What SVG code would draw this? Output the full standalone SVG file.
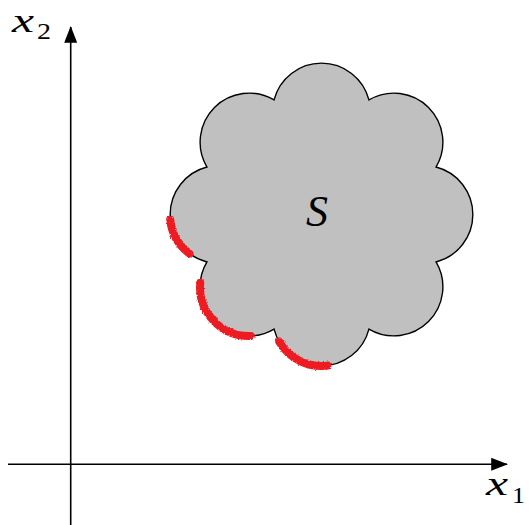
<svg xmlns="http://www.w3.org/2000/svg" width="529" height="525" viewBox="0 0 529 525">
<style>
.axis{stroke:#000;stroke-width:1.6;fill:none}
.blob{fill:#c0c0c0;stroke:#000;stroke-width:1.4;stroke-linejoin:miter}
.red{fill:none;stroke:#ec1c24;stroke-width:8;stroke-linecap:round;filter:url(#rough)}
.mi{font-family:"Liberation Serif","Times New Roman",serif;font-style:italic;fill:#000}
.rm{font-family:"Liberation Serif","Times New Roman",serif;fill:#000}
</style>
<defs>
<marker id="arr" viewBox="0 0 18 14" refX="17" refY="7" markerWidth="18" markerHeight="13" markerUnits="userSpaceOnUse" orient="auto">
<path d="M0,0 L18,7 L0,14 Z" fill="#000"/>
</marker>
<filter id="rough" x="-20%" y="-20%" width="140%" height="140%">
<feTurbulence type="fractalNoise" baseFrequency="0.6" numOctaves="2" seed="3" result="n"/>
<feDisplacementMap in="SourceGraphic" in2="n" scale="3" xChannelSelector="R" yChannelSelector="G"/>
</filter>
</defs>
<g id="connectors">
<line class="axis" x1="70.7" y1="525" x2="70.7" y2="27" marker-end="url(#arr)"/>
<line class="axis" x1="8" y1="464.3" x2="507" y2="464.3" marker-end="url(#arr)"/>
</g>
<g id="set-S">
<path class="blob" d="M436.06,167.05 A49 49 0 0 0 368.95,99.94 A49 49 0 0 0 274.05,99.94 A49 49 0 0 0 206.94,167.05 A49 49 0 0 0 206.94,261.95 A49 49 0 0 0 274.05,329.06 A49 49 0 0 0 368.95,329.06 A49 49 0 0 0 436.06,261.95 A49 49 0 0 0 436.06,167.05 Z"/>
<text class="mi" x="306" y="226" font-size="44">S</text>
</g>
<g id="red-marks">
<path class="red" d="M170.2,219.5 A49 49 0 0 0 189.5,253.6"/>
<path class="red" d="M200.21,282.71 A49 49 0 0 0 250.73,335.95"/>
<path class="red" d="M279.07,341.5 A49 49 0 0 0 327.47,365.63"/>
</g>
<g id="label-x2">
<text class="mi" x="12" y="32" font-size="34" textLength="22" lengthAdjust="spacingAndGlyphs">x</text>
<text class="rm" x="37" y="39" font-size="23" textLength="14" lengthAdjust="spacingAndGlyphs">2</text>
</g>
<g id="label-x1">
<text class="mi" x="486" y="495" font-size="34" textLength="22" lengthAdjust="spacingAndGlyphs">x</text>
<text class="rm" x="512" y="503" font-size="23" textLength="13" lengthAdjust="spacingAndGlyphs">1</text>
</g>
</svg>
